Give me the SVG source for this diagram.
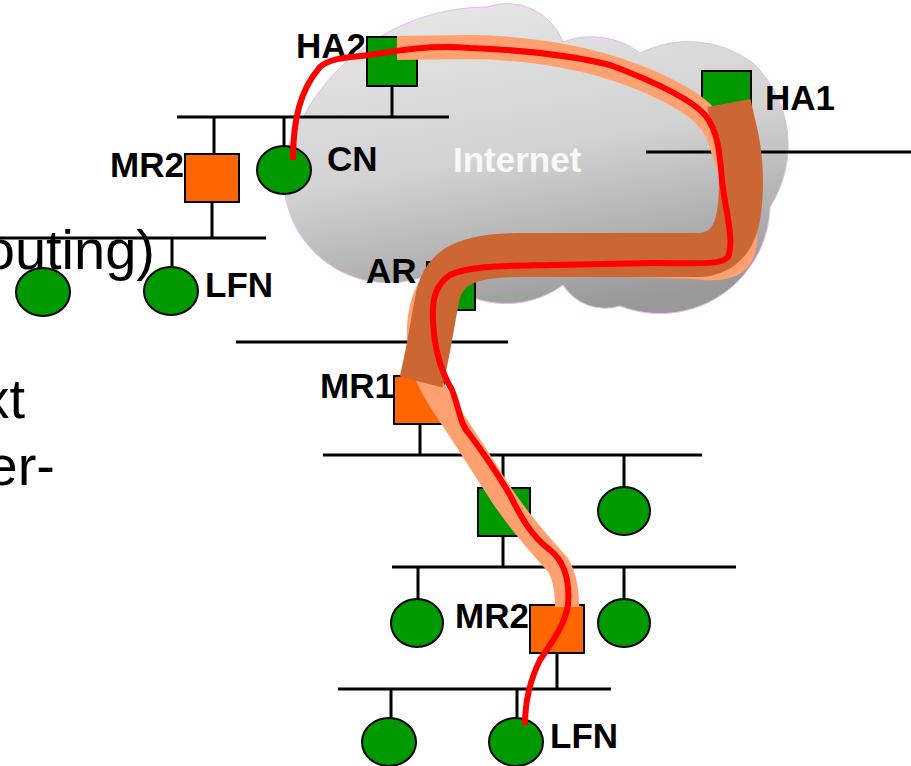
<svg xmlns="http://www.w3.org/2000/svg" width="911" height="766" viewBox="0 0 911 766">
<defs>
  <linearGradient id="cloudGrad" x1="0.25" y1="0" x2="0.55" y2="1">
    <stop offset="0" stop-color="#e6e6e6"/>
    <stop offset="0.5" stop-color="#d2d2d2"/>
    <stop offset="1" stop-color="#999999"/>
  </linearGradient>
</defs>
<style>
  .bg{font-family:"Liberation Sans",Arial,sans-serif;font-size:56px;fill:#000}
  .lbl{font-family:"Liberation Sans",Arial,sans-serif;font-size:35px;font-weight:bold;fill:#000}
  .net{stroke:#000;stroke-width:3;fill:none}
  .g{fill:#009900;stroke:#000;stroke-width:2}
  .o{fill:#ff6600;stroke:#000;stroke-width:2}
  .band1{fill:none;stroke:#ffa070;stroke-width:24;stroke-linecap:butt;stroke-linejoin:round}
  .band2{fill:none;stroke:#cc6633;stroke-width:44;stroke-linecap:butt;stroke-linejoin:round}
  .red{fill:none;stroke:#ff0000;stroke-width:6;stroke-linecap:butt;stroke-linejoin:round}
</style>
<rect width="911" height="766" fill="#ffffff"/>

<g id="background-text">
  <text class="bg" x="155" y="269" text-anchor="end">routing)</text>
  <text class="bg" x="25" y="418" text-anchor="end">xt</text>
  <text class="bg" x="55" y="485" text-anchor="end">er-</text>
</g>

<g id="internet">
  <path d="M435,272 A105,105 0 0 1 303,117 A210,210 0 0 1 487,7 A60,60 0 0 1 563,42 A80,80 0 0 1 640,53 A108,108 0 0 1 753,63 A114,114 0 0 1 770,207 A110,110 0 0 1 620,306 A50,50 0 0 1 563,285 A96,96 0 0 1 435,272 Z" fill="url(#cloudGrad)" stroke="#e8b8f0" stroke-width="1"/>
  <text x="453" y="172" font-family="Liberation Sans, Arial, sans-serif" font-size="35" font-weight="bold" fill="#f8f8f8">Internet</text>
</g>

<g id="links" class="net">
  <path d="M177,117 H449 M392,86 V117 M214,117 V154 M284,117 V146"/>
  <path d="M0,238 H266 M212,202 V238 M172,238 V267"/>
  <path d="M646,152 H911 M727,120 V152"/>
  <path d="M236,342 H508"/>
  <path d="M323,455 H702 M420,424 V455 M503,455 V488 M624,455 V487"/>
  <path d="M392,567 H736 M503,536 V567 M418,567 V600 M624,567 V600"/>
  <path d="M338,689 H611 M557,653 V689 M391,689 V718 M517,689 V718"/>
</g>

<g id="HA2"><rect class="g" x="367" y="37" width="50" height="49"/><text class="lbl" x="296" y="58">HA2</text></g>
<g id="HA1"><rect class="g" x="702" y="71" width="49" height="49"/><text class="lbl" x="765" y="110">HA1</text></g>
<g id="MR2-top"><rect class="o" x="185" y="154" width="54" height="48"/><text class="lbl" x="110" y="177">MR2</text></g>
<g id="CN"><ellipse class="g" cx="284" cy="170" rx="27" ry="24"/><text class="lbl" x="327" y="171">CN</text></g>
<g id="LFN-top"><ellipse class="g" cx="171" cy="291" rx="27" ry="24"/><text class="lbl" x="205" y="297">LFN</text></g>
<g id="node-left"><ellipse class="g" cx="43" cy="292" rx="27" ry="24"/></g>
<g id="AR"><rect class="g" x="427" y="262" width="48" height="48"/><text class="lbl" x="366" y="283">AR</text></g>
<g id="MR1"><rect class="o" x="394" y="376" width="50" height="48"/><text class="lbl" x="320" y="398">MR1</text></g>
<g id="router-mid"><rect class="g" x="478" y="488" width="52" height="48"/></g>
<g id="node-r2"><ellipse class="g" cx="624" cy="511" rx="26" ry="24"/></g>
<g id="node-r3a"><ellipse class="g" cx="417" cy="623" rx="26" ry="24"/></g>
<g id="MR2-bottom"><rect class="o" x="530" y="605" width="54" height="48"/><text class="lbl" x="455" y="628">MR2</text></g>
<g id="node-r3b"><ellipse class="g" cx="624" cy="623" rx="26" ry="24"/></g>
<g id="node-r4a"><ellipse class="g" cx="389" cy="742" rx="27" ry="24"/></g>
<g id="LFN-bottom"><ellipse class="g" cx="516" cy="742" rx="27" ry="24"/><text class="lbl" x="550" y="748">LFN</text></g>

<g id="paths">
  <path class="band1" d="M397,48 L470,47 C540,48 600,60 650,82 C690,100 712,115 720,140 C728,170 742,195 745,225 C748,258 738,270 705,268 C680,266 600,264 520,264 C470,263 440,270 428,290 C418,310 415,340 425,370 C432,390 440,400 453,420 C468,442 485,470 505,500 C522,525 540,545 558,565 C566,578 567,595 567,607"/>
  <path class="band2" d="M729,103 C733,125 741,145 741,180 C741,215 738,252 700,255 L520,255 C470,255 445,265 438,295 C432,325 428,355 421,382"/>
  <path class="red" d="M293,160 C293,120 300,90 320,67 C330,58 345,58 370,55 C400,50 430,45 470,48 C520,50 570,55 610,65 C650,80 690,98 705,115 C718,130 720,155 722,180 C725,210 735,240 728,257 C722,265 700,263 653,263 L553,265 C510,266 470,265 450,275 C435,285 432,300 433,320 C434,345 440,370 452,390 C460,410 460,425 470,435 C485,455 500,478 510,495 C520,515 530,535 550,550 C565,562 570,580 568,605 C565,625 550,645 540,660 C530,680 525,700 525,725"/>
</g>
</svg>
